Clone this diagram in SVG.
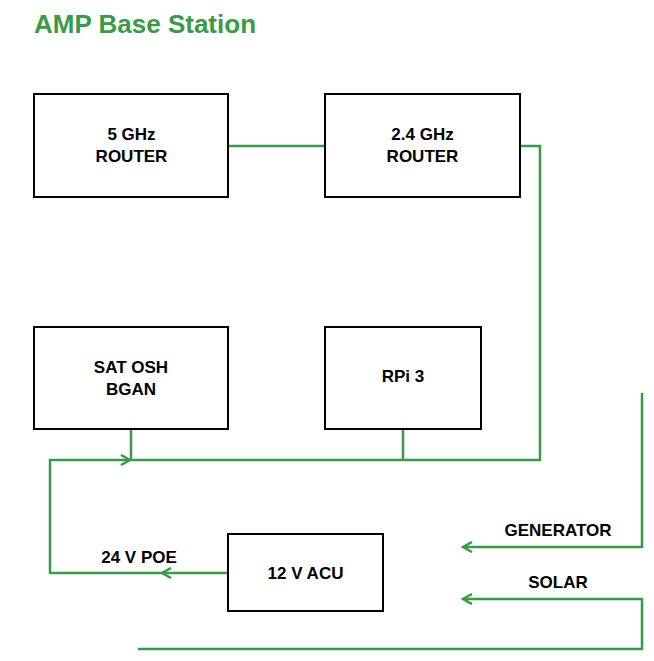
<svg xmlns="http://www.w3.org/2000/svg" width="654" height="661" viewBox="0 0 654 661">
<style>
.box{fill:#fff;stroke:#000;stroke-width:2}
.lbl{font-family:"Liberation Sans",Arial,sans-serif;font-weight:bold;font-size:17px;fill:#000;text-anchor:middle}
.title{font-family:"Liberation Sans",Arial,sans-serif;font-weight:bold;font-size:26px;fill:#3a9a47}
.wire{fill:none;stroke:#3a9a47;stroke-width:2.5}
</style>
<defs>
<marker id="arr" markerWidth="12" markerHeight="12" refX="10" refY="6" orient="auto" markerUnits="userSpaceOnUse">
<path d="M1,1 L10,6 L1,11" fill="none" stroke="#3a9a47" stroke-width="2.5"/>
</marker>
</defs>
<rect width="654" height="661" fill="#fff"/>
<text class="title" x="34" y="33">AMP Base Station</text>
<g id="connectors">
<path class="wire" d="M229,146 H325"/>
<path class="wire" d="M520,146 H540 V460 H131"/>
<path class="wire" d="M131,430 V460"/>
<path class="wire" d="M403,430 V460"/>
<path class="wire" d="M228,573 H162" marker-end="url(#arr)"/>
<path class="wire" d="M162,573 H50 V460 H130" marker-end="url(#arr)"/>
<path class="wire" d="M642,393 V547 H463" marker-end="url(#arr)"/>
<path class="wire" d="M138,649 H642 V599 H463" marker-end="url(#arr)"/>
</g>
<g id="router5">
<rect class="box" x="34" y="94" width="194" height="103"/>
<text class="lbl" x="131.5" y="140">5 GHz</text>
<text class="lbl" x="131.5" y="162">ROUTER</text>
</g>
<g id="router24">
<rect class="box" x="325" y="94" width="195" height="103"/>
<text class="lbl" x="422.5" y="140">2.4 GHz</text>
<text class="lbl" x="422.5" y="162">ROUTER</text>
</g>
<g id="bgan">
<rect class="box" x="34" y="327" width="194" height="102"/>
<text class="lbl" x="131" y="373">SAT OSH</text>
<text class="lbl" x="131" y="395">BGAN</text>
</g>
<g id="rpi">
<rect class="box" x="325" y="327" width="156" height="102"/>
<text class="lbl" x="403" y="382">RPi 3</text>
</g>
<g id="acu">
<rect class="box" x="228" y="534" width="155" height="77"/>
<text class="lbl" x="305.5" y="579">12 V ACU</text>
</g>
<g id="labels">
<text class="lbl" x="139" y="563">24 V POE</text>
<text class="lbl" x="558" y="536">GENERATOR</text>
<text class="lbl" x="558" y="588">SOLAR</text>
</g>
</svg>
